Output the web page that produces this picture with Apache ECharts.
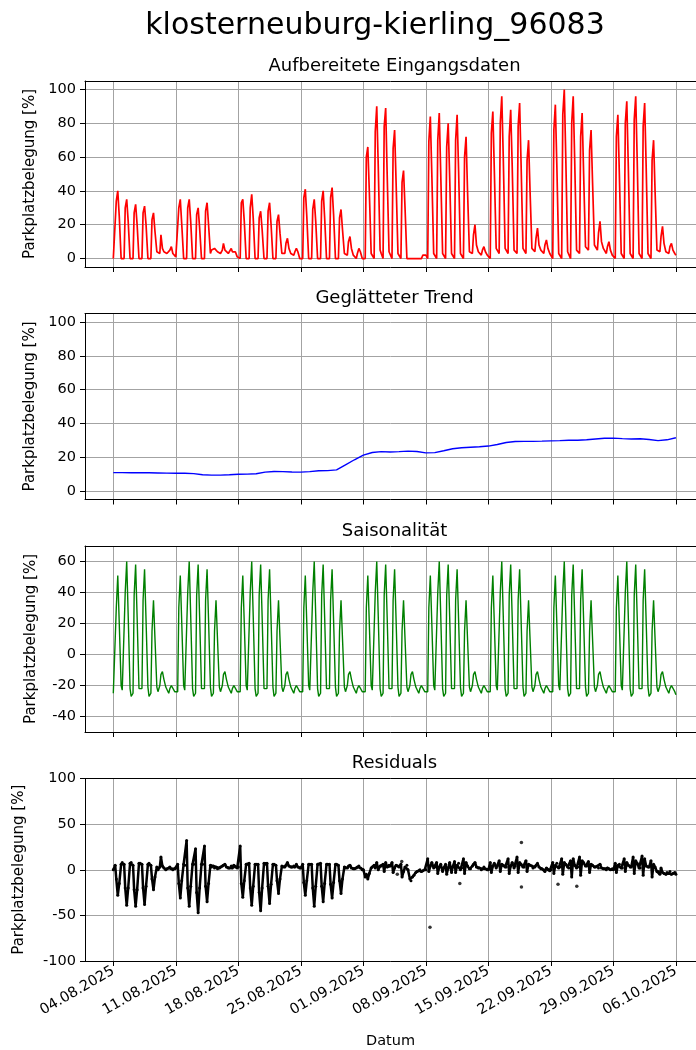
<!DOCTYPE html>
<html><head><meta charset="utf-8">
<script src="https://cdn.jsdelivr.net/npm/echarts@6/dist/echarts.min.js"></script>
<style>html,body{margin:0;padding:0;background:#fff}#c{width:696px;height:1050px}</style>
</head><body><div id="c"></div>
<script>
// x = days since 04.08.2025 00:00; each daily row holds values at these hours
const dayHours = [0, 5, 8, 12, 16, 21];
const tickDays = [0, 7, 14, 21, 28, 35, 42, 49, 56, 63];
const tickLabels = ['04.08.2025','11.08.2025','18.08.2025','25.08.2025','01.09.2025','08.09.2025','15.09.2025','22.09.2025','29.09.2025','06.10.2025'];

// Aufbereitete Eingangsdaten (per week, Mon..Sun)
const rawW1 = [[0,0,34,40,25,0],[0,0,30,35,22,0],[0,0,27,32,20,0],[0,0,27,31,20,0],[0,0,23,27,16,4],[5,3,14,6,4,3],[3,2,5,7,3,2]];
const rawW2 = [[1,0,30,35,20,0],[0,0,30,35,22,0],[0,0,26,30,18,0],[0,0,28,33,20,3],[5,4,6,5,4,3],[3,5,9,5,4,3],[2,6,4,3,4,1]];
const rawW3 = [[0,0,33,35,22,0],[0,0,30,38,24,0],[0,0,24,28,17,0],[0,0,28,33,20,0],[0,0,22,26,15,3],[4,3,9,12,6,3],[3,2,4,6,4,0]];
const rawW4 = [[0,0,36,41,25,0],[0,0,29,35,22,0],[0,0,34,40,24,0],[0,0,36,42,26,0],[0,0,24,29,17,3],[3,2,10,13,6,2],[2,0,3,6,4,0]];
const rawW5 = [[0,0,60,66,40,3],[3,0,75,90,55,5],[3,0,78,89,50,4],[3,0,65,76,45,3],[2,0,45,52,30,0],[0,0,0,0,0,0],[0,0,0,0,2,2]];
const rawW6 = [[2,0,69,84,50,3],[3,0,70,86,50,3],[2,0,66,80,48,3],[2,0,70,85,52,3],[2,0,60,72,40,4],[5,3,14,20,8,4],[3,2,5,7,4,2]];
const rawW7 = [[1,0,74,87,52,6],[5,3,80,96,60,6],[5,3,72,88,55,5],[5,3,78,92,55,6],[5,3,58,70,40,6],[6,4,12,18,8,5],[4,3,8,11,6,3]];
const rawW8 = [[2,0,76,91,55,3],[3,0,85,100,60,4],[4,0,80,96,58,5],[5,3,72,86,50,7],[7,5,64,76,45,8],[7,5,15,22,10,6],[5,3,7,10,5,2]];
const rawW9 = [[2,0,72,85,50,3],[3,0,80,93,55,3],[3,0,82,96,58,3],[3,0,78,92,55,3],[3,0,58,70,40,5],[6,4,13,19,9,4],[4,3,7,9,5,3]];
const rawEnd = 2;

// Geglätteter Trend (one value per day, 04.08 .. 06.10)
const trendDaily = [10.9,10.9,10.8,10.9,10.8,10.7,10.6,10.5,10.5,10.3,9.6,9.4,9.4,9.6,9.9,10.0,10.2,11.2,11.6,11.5,11.3,11.2,11.5,12.0,12.1,12.5,15.5,18.5,21.2,22.8,23.3,23.1,23.3,23.6,23.4,22.6,22.7,23.8,25.0,25.6,25.9,26.2,26.6,27.5,28.7,29.3,29.4,29.4,29.5,29.7,29.8,30.0,30.0,30.3,30.8,31.2,31.3,31.0,30.8,30.9,30.5,29.8,30.3,31.5];

// Saisonalität (per week, Mon..Sun)
const seasonW1 = [[-25,-24,30,51,20,-20],[-23,-22,40,60,25,-22],[-27,-25,38,58,24,-22],[-23,-22,35,55,22,-21],[-27,-25,15,35,10,-21],[-24,-20,-13,-11,-16,-21],[-22,-25,-22,-20,-20,-24]];
const seasonW2 = [[-25,-24,30,51,20,-20],[-23,-22,40,60,25,-22],[-27,-25,38,58,24,-22],[-23,-22,35,55,22,-21],[-27,-25,15,35,10,-21],[-24,-20,-13,-11,-16,-21],[-22,-25,-22,-20,-20,-24]];
const seasonW3 = [[-25,-24,30,51,20,-20],[-23,-22,40,60,25,-22],[-27,-25,38,58,24,-22],[-23,-22,35,55,22,-21],[-27,-25,15,35,10,-21],[-24,-20,-13,-11,-16,-21],[-22,-25,-22,-20,-20,-24]];
const seasonW4 = [[-25,-24,30,51,20,-20],[-23,-22,40,60,25,-22],[-27,-25,38,58,24,-22],[-23,-22,35,55,22,-21],[-27,-25,15,35,10,-21],[-24,-20,-13,-11,-16,-21],[-22,-25,-22,-20,-20,-24]];
const seasonW5 = [[-25,-24,30,51,20,-20],[-23,-22,40,60,25,-22],[-27,-25,38,58,24,-22],[-23,-22,35,55,22,-21],[-27,-25,15,35,10,-21],[-24,-20,-13,-11,-16,-21],[-22,-25,-22,-20,-20,-24]];
const seasonW6 = [[-25,-24,30,51,20,-20],[-23,-22,40,60,25,-22],[-27,-25,38,58,24,-22],[-23,-22,35,55,22,-21],[-27,-25,15,35,10,-21],[-24,-20,-13,-11,-16,-21],[-22,-25,-22,-20,-20,-24]];
const seasonW7 = [[-25,-24,30,51,20,-20],[-23,-22,40,60,25,-22],[-27,-25,38,58,24,-22],[-23,-22,35,55,22,-21],[-27,-25,15,35,10,-21],[-24,-20,-13,-11,-16,-21],[-22,-25,-22,-20,-20,-24]];
const seasonW8 = [[-25,-24,30,51,20,-20],[-23,-22,40,60,25,-22],[-27,-25,38,58,24,-22],[-23,-22,35,55,22,-21],[-27,-25,15,35,10,-21],[-24,-20,-13,-11,-16,-21],[-22,-25,-22,-20,-20,-24]];
const seasonW9 = [[-25,-24,30,51,20,-20],[-23,-22,40,60,25,-22],[-27,-25,38,58,24,-22],[-23,-22,35,55,22,-21],[-27,-25,15,35,10,-21],[-24,-20,-13,-11,-16,-21],[-22,-25,-22,-20,-20,-24]];
const seasonEnd = -26;

// Residuals (per week, Mon..Sun)
const residW1 = [[0,5,-10,-28,-15,6],[8,6,-20,-39,-20,7],[8,5,-22,-40,-22,7],[7,6,-20,-38,-18,6],[7,5,-10,-22,-8,3],[0,3,14,4,2,0],[1,2,3,1,0,1]];
const residW2 = [[2,6,-15,-31,-12,6],[5,32,-20,-40,-18,6],[6,23,-25,-47,-20,6],[6,26,-18,-35,-15,5],[3,4,2,3,1,2],[3,4,5,6,3,2],[2,4,2,5,3,2]];
const residW3 = [[3,26,-15,-30,-12,6],[6,7,-20,-39,-18,6],[6,6,-25,-45,-20,7],[6,7,-18,-37,-16,6],[6,5,-12,-26,-10,4],[3,3,5,8,4,3],[3,4,3,6,3,2]];
const residW4 = [[2,6,-14,-28,-12,6],[6,6,-20,-40,-18,6],[6,7,-18,-35,-15,6],[6,6,-16,-31,-14,6],[6,5,-12,-26,-10,3],[2,2,4,5,2,1],[1,2,3,4,2,0]];
const residW5 = [[0,-8,-5,-10,-4,2],[3,5,2,8,0,4],[4,6,-2,8,3,5],[4,8,-3,2,5,4],[3,6,-8,-2,3,5],[0,-10,-12,-8,-6,-3],[-2,-1,0,-2,-1,0]];
const residW6 = [[0,12,-2,4,8,2],[3,8,-4,3,6,-2],[2,6,-5,2,8,-3],[3,9,-3,5,7,0],[2,12,-4,8,4,1],[1,4,6,8,3,2],[2,0,1,3,1,0]];
const residW7 = [[0,8,-3,4,7,2],[4,10,-2,6,5,3],[3,12,-4,4,8,2],[4,14,-3,8,6,3],[3,10,-2,6,5,4],[2,3,5,7,3,1],[1,0,-2,2,0,-1]];
const residW8 = [[0,8,-4,5,7,2],[3,12,-5,8,6,3],[2,10,-8,12,5,2],[3,14,-6,10,8,4],[4,9,-3,6,5,3],[3,4,2,6,2,1],[1,0,2,1,0,1]];
const residW9 = [[0,7,-3,5,6,2],[2,12,-2,8,5,3],[3,14,-4,10,7,2],[2,15,-6,12,4,3],[3,10,-8,6,3,-2],[-2,-5,2,-3,-4,-5],[-3,-4,-2,-5,-4,-3]];
const residEnd = -5;
const residOutliers = [[35.46,-63],[38.8,-15],[45.7,30],[45.7,-19],[49.8,-16],[51.9,-18],[31.8,-5],[32.3,9]];

function flatten(weeks, endVal) {
  const out = [];
  weeks.forEach((wk, w) => wk.forEach((row, d) => row.forEach((v, k) => {
    out.push([w * 7 + d + dayHours[k] / 24, v]);
  })));
  out.push([63, endVal]);
  return out;
}
const rawData = flatten([rawW1,rawW2,rawW3,rawW4,rawW5,rawW6,rawW7,rawW8,rawW9], rawEnd);
const seasonData = flatten([seasonW1,seasonW2,seasonW3,seasonW4,seasonW5,seasonW6,seasonW7,seasonW8,seasonW9], seasonEnd);
const residData = flatten([residW1,residW2,residW3,residW4,residW5,residW6,residW7,residW8,residW9], residEnd);
const trendData = trendDaily.map((v, i) => [i, v]);

const FONT = 'DejaVu Sans';
const GRIDC = '#a3a3a3';
const X_MIN = -3.17, X_MAX = 65.25;
const tops = [81, 313.5, 546, 778.5];
const yCfg = [
  {min: -5, max: 105, ticks: [0,20,40,60,80,100], gap: 46},
  {min: -5, max: 105, ticks: [0,20,40,60,80,100], gap: 46},
  {min: -50, max: 70, ticks: [-40,-20,0,20,40,60], gap: 46},
  {min: -100, max: 100, ticks: [-100,-50,0,50,100], gap: 58}
];
const subTitles = ['Aufbereitete Eingangsdaten', 'Geglätteter Trend', 'Saisonalität', 'Residuals'];

const bottomX = tops.map((t, i) => ({
  type: 'value', gridIndex: i, min: X_MIN, max: X_MAX, position: 'bottom',
  axisLine: {show: true, onZero: false, lineStyle: {color: '#000', width: 1}},
  axisTick: {show: true, length: 5, inside: false, customValues: tickDays, lineStyle: {color: '#000', width: 1}},
  axisLabel: {show: i === 3, customValues: tickDays, rotate: 30, margin: 9, fontSize: 14.5, fontFamily: FONT, color: '#000',
    formatter: v => tickLabels[tickDays.indexOf(v)] || ''},
  splitLine: {show: true, lineStyle: {color: GRIDC, width: 1}},
  name: i === 3 ? 'Datum' : '', nameLocation: 'middle', nameGap: 73,
  nameTextStyle: {fontSize: 14.5, fontFamily: FONT, color: '#000'}
}));
const topX = tops.map((t, i) => ({
  type: 'value', gridIndex: i, min: X_MIN, max: X_MAX, position: 'top',
  axisLine: {show: true, onZero: false, lineStyle: {color: '#000', width: 1}},
  axisTick: {show: false}, axisLabel: {show: false}, splitLine: {show: false}
}));

const option = {
  animation: false,
  backgroundColor: '#fff',
  grid: tops.map(t => ({left: 85, top: t, right: 0, height: 186, show: false})),
  xAxis: bottomX.concat(topX),
  yAxis: yCfg.map((c, i) => ({
    type: 'value', gridIndex: i, min: c.min, max: c.max,
    axisLine: {show: true, onZero: false, lineStyle: {color: '#000', width: 1}},
    axisTick: {show: true, length: 5, inside: false, customValues: c.ticks, lineStyle: {color: '#000', width: 1}},
    axisLabel: {customValues: c.ticks, margin: 9, fontSize: 14.5, fontFamily: FONT, color: '#000'},
    splitLine: {show: true, lineStyle: {color: GRIDC, width: 1}},
    name: 'Parkplatzbelegung [%]', nameLocation: 'middle', nameRotate: 90, nameGap: c.gap,
    nameTextStyle: {fontSize: 15, fontFamily: FONT, color: '#000'}
  })),
  graphic: [
    {type: 'text', x: 375, y: 26, style: {text: 'klosterneuburg-kierling_96083', font: '30px "DejaVu Sans"', fill: '#000', align: 'center', verticalAlign: 'middle'}}
  ].concat(subTitles.map((s, i) => ({
    type: 'text', x: 394.5, y: tops[i] - 15, style: {text: s, font: '18px "DejaVu Sans"', fill: '#000', align: 'center', verticalAlign: 'middle'}
  }))),
  series: [
    {type: 'line', xAxisIndex: 0, yAxisIndex: 0, data: rawData, showSymbol: false, lineStyle: {color: '#ff0000', width: 1.7}},
    {type: 'line', xAxisIndex: 1, yAxisIndex: 1, data: trendData, showSymbol: false, lineStyle: {color: '#0000ff', width: 1.4}},
    {type: 'line', xAxisIndex: 2, yAxisIndex: 2, data: seasonData, showSymbol: false, lineStyle: {color: '#008000', width: 1.4}},
    {type: 'line', xAxisIndex: 3, yAxisIndex: 3, data: residData, showSymbol: true, symbol: 'circle', symbolSize: 3,
      itemStyle: {color: '#000'}, lineStyle: {color: '#000', width: 2.5}},
    {type: 'scatter', xAxisIndex: 3, yAxisIndex: 3, data: residOutliers, symbolSize: 3.5, itemStyle: {color: '#000'}}
  ]
};
const chart = echarts.init(document.getElementById('c'), null, {renderer: 'canvas'});
chart.setOption(option);
</script></body></html>
